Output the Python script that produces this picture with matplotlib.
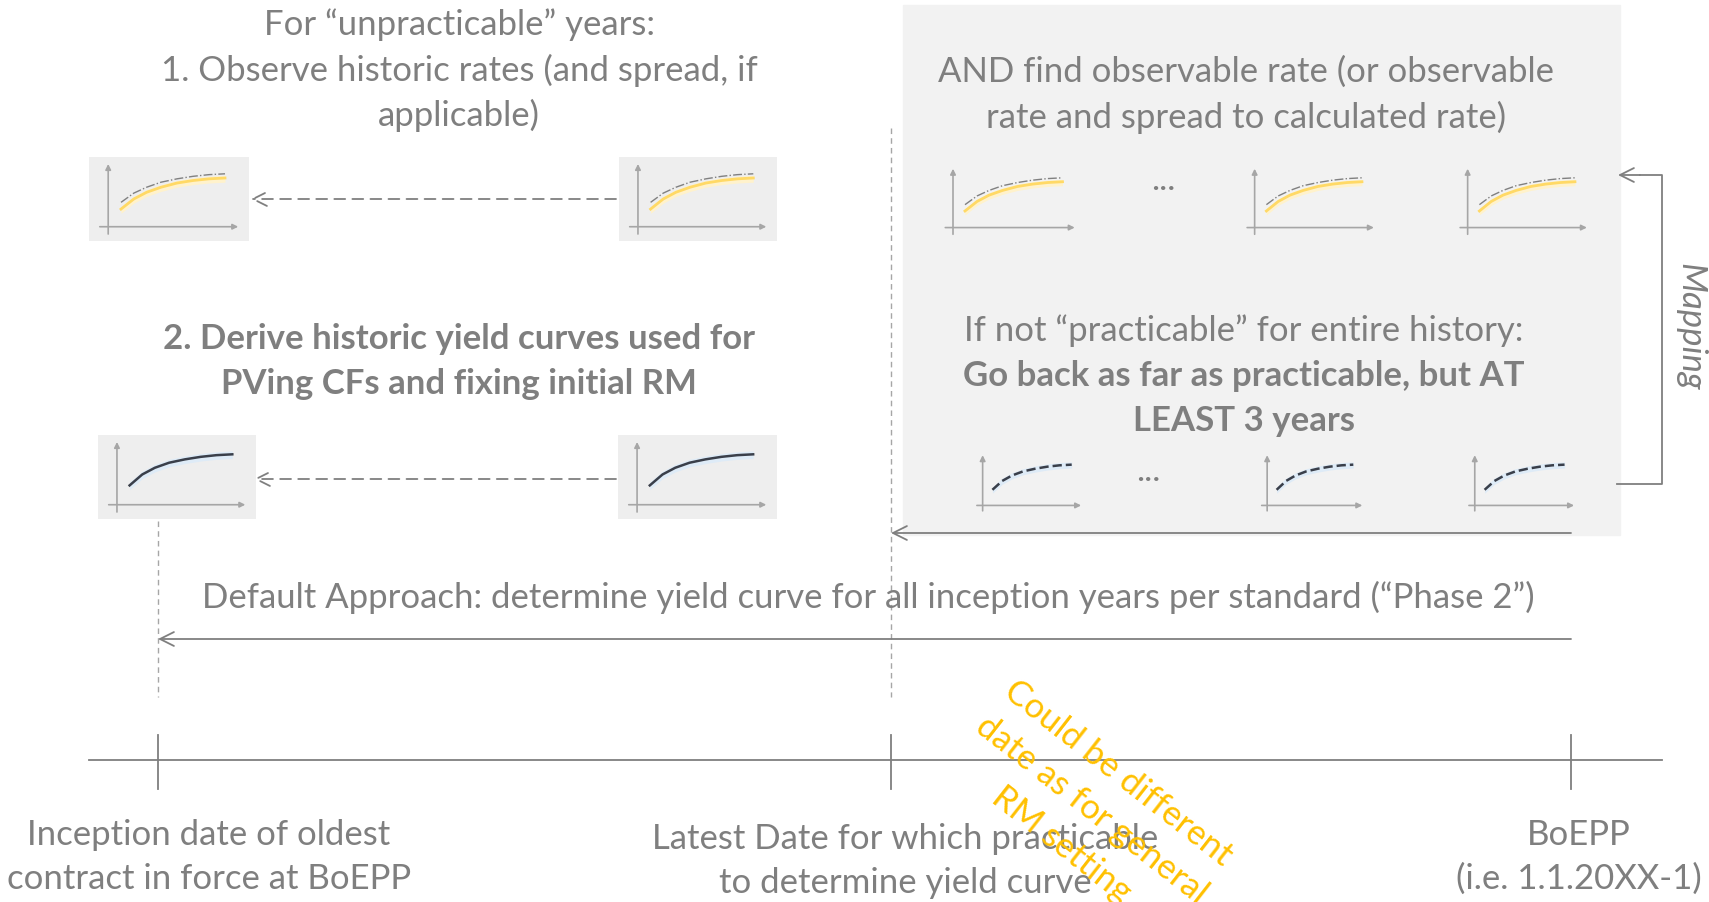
import matplotlib.pyplot as plt
from matplotlib.patches import Rectangle

W, H = 1709, 903
GREY = '#7f7f7f'
PANEL = '#f2f2f2'
ORANGE = '#ffc000'

# icon curve shapes
curve_x = [0.20, 0.28, 0.36, 0.45, 0.55, 0.65, 0.75, 0.85]
rate_curve = [0.38, 0.50, 0.58, 0.64, 0.69, 0.72, 0.74, 0.75]
spread_curve = [0.46, 0.57, 0.64, 0.70, 0.74, 0.77, 0.79, 0.80]
yield_curve = [0.40, 0.53, 0.61, 0.67, 0.71, 0.74, 0.76, 0.77]

# text blocks
title_left = ['For \u201cunpracticable\u201d years:',
              '1. Observe historic rates (and spread, if',
              'applicable)']
title_left2 = ['2. Derive historic yield curves used for',
               'PVing CFs and fixing initial RM']
panel_top = ['AND find observable rate (or observable',
             'rate and spread to calculated rate)']
panel_mid = ['If not \u201cpracticable\u201d for entire history:']
panel_bold = ['Go back as far as practicable, but AT', 'LEAST 3 years']
default_text = 'Default Approach: determine yield curve for all inception years per standard (\u201cPhase 2\u201d)'
tick_labels = [['Inception date of oldest', 'contract in force at BoEPP'],
               ['Latest Date for which practicable', 'to determine yield curve'],
               ['BoEPP', '(i.e. 1.1.20XX-1)']]
note_lines = ['Could be different', 'date as for general', 'RM setting']

plt.rcParams['font.family'] = ['Lato', 'DejaVu Sans']
FS = 25

fig = plt.figure(figsize=(W / 100, H / 100), dpi=100)
ax = fig.add_axes([0, 0, 1, 1])
ax.set_xlim(0, W)
ax.set_ylim(H, 0)
ax.axis('off')


def icon(x0, y0, x1, y1, kind, bg=True):
    a = fig.add_axes([x0 / W, 1 - y1 / H, (x1 - x0) / W, (y1 - y0) / H])
    a.set_xlim(0, 1)
    a.set_ylim(0, 1)
    a.axis('off')
    if bg:
        a.add_patch(Rectangle((0, 0), 1, 1, color='#eeeeee', zorder=0))
    arr = dict(arrowstyle='-|>', color='#a6a6a6', lw=1.2, mutation_scale=8)
    a.annotate('', xy=(0.12, 0.95), xytext=(0.12, 0.05), arrowprops=arr)
    a.annotate('', xy=(0.95, 0.17), xytext=(0.05, 0.17), arrowprops=arr)
    if kind == 'rate':
        a.fill_between(curve_x, [v - 0.05 for v in rate_curve],
                       [v + 0.03 for v in rate_curve], color='#fff2cc', lw=0)
        a.plot(curve_x, rate_curve, color='#ffd966', lw=2)
        a.plot(curve_x, spread_curve, color='#808080', lw=1, ls='-.')
    else:
        a.fill_between(curve_x, [v - 0.05 for v in yield_curve],
                       [v + 0.04 for v in yield_curve], color='#deebf7', lw=0)
        a.plot(curve_x, yield_curve, color='#3a3f4a', lw=1.8,
               ls='-' if bg else '--')


def arrow(x0, y0, x1, y1, dashed=False):
    ax.annotate('', xy=(x1, y1), xytext=(x0, y0),
                arrowprops=dict(arrowstyle='->', color=GREY, lw=1.3,
                                ls=(0, (6, 4)) if dashed else '-',
                                mutation_scale=25, shrinkA=0, shrinkB=0))


# grey panel
ax.add_patch(Rectangle((903, 6), 717, 530, color=PANEL, zorder=0))

# left column text
for i, s in enumerate(title_left):
    ax.text(459, 25 + i * 45, s, ha='center', va='center', color=GREY, fontsize=FS)
for i, s in enumerate(title_left2):
    ax.text(459, 339 + i * 45, s, ha='center', va='center', color=GREY,
            fontsize=FS, fontweight='bold')

# left column icons and dashed arrows
icon(89, 158, 249, 242, 'rate')
icon(619, 158, 777, 242, 'rate')
arrow(616, 200, 251, 200, dashed=True)
icon(98, 436, 256, 520, 'yield')
icon(618, 436, 777, 520, 'yield')
arrow(616, 480, 254, 480, dashed=True)

# panel text
for i, s in enumerate(panel_top):
    ax.text(1246, 72 + i * 45, s, ha='center', va='center', color=GREY, fontsize=FS)
ax.text(1244, 331, panel_mid[0], ha='center', va='center', color=GREY, fontsize=FS)
for i, s in enumerate(panel_bold):
    ax.text(1244, 376 + i * 45, s, ha='center', va='center', color=GREY,
            fontsize=FS, fontweight='bold')

# panel icons
for x0, x1 in [(935, 1085), (1237, 1384), (1450, 1597)]:
    icon(x0, 163, x1, 242, 'rate', bg=False)
for x0, x1 in [(968, 1090), (1253, 1371), (1460, 1583)]:
    icon(x0, 450, x1, 518, 'yield', bg=False)
ax.text(1163, 180, '...', ha='center', va='center', color=GREY, fontsize=FS)
ax.text(1148, 471, '...', ha='center', va='center', color=GREY, fontsize=FS)

# mapping bracket
ax.plot([1617, 1662, 1662, 1640], [485, 485, 176, 176], color=GREY, lw=1.3)
arrow(1640, 176, 1618, 176)
ax.text(1690, 327, 'Mapping', rotation=-90, ha='center', va='center',
        color=GREY, fontsize=FS, style='italic')

# vertical dashed guides
ax.plot([891, 891], [129, 698], color='#a6a6a6', lw=1, ls=(0, (4, 3)))
ax.plot([158, 158], [522, 698], color='#a6a6a6', lw=1, ls=(0, (4, 3)))

# arrows back in time
arrow(1571, 534, 891, 534)
ax.text(868, 597, default_text, ha='center', va='center', color=GREY, fontsize=FS)
arrow(1571, 640, 158, 640)

# timeline
ax.plot([89, 1662], [761, 761], color=GREY, lw=1.3)
tick_x = [158, 891, 1571]
for x in tick_x:
    ax.plot([x, x], [736, 790], color=GREY, lw=1.3)

label_x = [209, 905, 1579]
label_y = [835, 839, 835]
for x, y, lines in zip(label_x, label_y, tick_labels):
    for i, s in enumerate(lines):
        ax.text(x, y + i * 44, s, ha='center', va='center', color=GREY, fontsize=FS)

# orange note, one rotated line at a time
note_centres = [(1118, 773), (1092, 810), (1062, 845)]
for (x, y), s in zip(note_centres, note_lines):
    ax.text(x, y, s, ha='center', va='center', color=ORANGE, fontsize=FS,
            rotation=-38, rotation_mode='anchor')

fig.savefig('out.png', dpi=100)
